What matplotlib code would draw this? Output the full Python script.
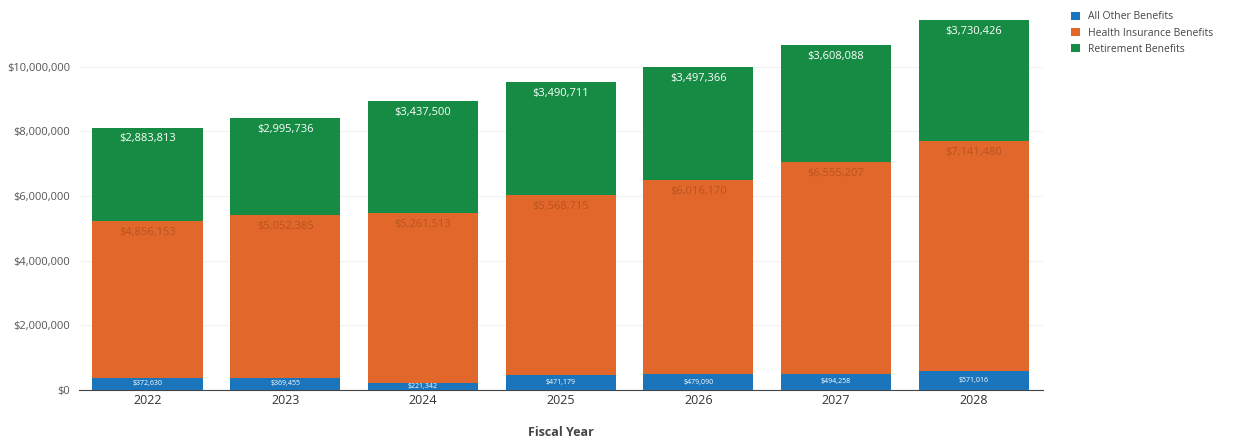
import matplotlib
matplotlib.use("Agg")
import matplotlib.pyplot as plt
from matplotlib.ticker import FuncFormatter
import numpy as np

years = ["2022", "2023", "2024", "2025", "2026", "2027", "2028"]
other = [372630, 369455, 221342, 471179, 479090, 494258, 571016]
health = [4856153, 5052385, 5261513, 5568715, 6016170, 6555207, 7141480]
retire = [2883813, 2995736, 3437500, 3490711, 3497366, 3608088, 3730426]

c_other = "#1b75bc"
c_health = "#e2672a"
c_retire = "#168b43"

plt.rcParams["font.family"] = ["Open Sans", "DejaVu Sans"]

fig = plt.figure(figsize=(12.39, 4.41), dpi=100)
ax = fig.add_axes([0.0635, 0.116, 0.778, 0.862])

x = np.arange(len(years))
w = 0.8
other = np.array(other)
health = np.array(health)
retire = np.array(retire)

ax.bar(x, other, w, color=c_other, label="All Other Benefits", zorder=3)
ax.bar(x, health, w, bottom=other, color=c_health, label="Health Insurance Benefits", zorder=3)
ax.bar(x, retire, w, bottom=other + health, color=c_retire, label="Retirement Benefits", zorder=3)

money = lambda v: "${:,.0f}".format(v)
for i in range(len(years)):
    # label at top of each segment
    ax.text(x[i], other[i] / 2, money(other[i]), ha="center", va="center",
            color="white", fontsize=5, zorder=4)
    ax.text(x[i], other[i] + health[i] - 200000, money(health[i]), ha="center", va="top",
            color="#b8541f", fontsize=8, zorder=4)
    ax.text(x[i], other[i] + health[i] + retire[i] - 180000, money(retire[i]), ha="center", va="top",
            color="white", fontsize=8, zorder=4)

ax.set_xlim(-0.5, 6.5)
ax.set_ylim(0, 11760000)
ax.set_xticks(x)
ax.set_xticklabels(years)
ax.set_yticks(np.arange(0, 10000001, 2000000))
ax.yaxis.set_major_formatter(FuncFormatter(lambda v, p: money(v)))
ax.tick_params(axis="y", length=0, labelsize=8, labelcolor="#555555", pad=6)
ax.tick_params(axis="x", length=0, labelsize=9, labelcolor="#333333", pad=3)
ax.grid(axis="y", color="#f2f2f2", linewidth=0.8, zorder=0)
for s in ["top", "right", "left"]:
    ax.spines[s].set_visible(False)
ax.spines["bottom"].set_color("#444444")
ax.spines["bottom"].set_linewidth(0.8)

ax.set_xlabel("Fiscal Year", fontsize=9, fontweight="bold", color="#444444", labelpad=14)

ax.legend(loc="upper left", bbox_to_anchor=(1.02, 1.02), frameon=False, fontsize=7.5,
          handlelength=0.8, handleheight=0.8, labelcolor="#444444", labelspacing=0.5)

fig.savefig("out.png", dpi=100)
